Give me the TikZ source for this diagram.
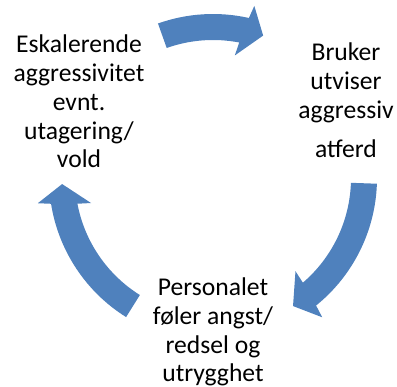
\documentclass[tikz,border=0pt]{standalone}
\usepackage{fontspec}
\setmainfont{Carlito}
\usepackage{tikz}

\definecolor{cycleblue}{RGB}{79,129,189}
\tikzset{
	cycletext/.style={align=center,inner sep=0pt,anchor=base,font=\fontsize{18.2}{20.6}\selectfont},
	cyclearrow/.style={fill=cycleblue,draw=none}
}
% block arrow on the circle: tail angle, head base angle, tip angle
\newcommand{\cycarrow}[3]{\fill[cyclearrow] (#1:164) arc[start angle=#1,end angle=#2-0.85,radius=164] -- ({#2-1.7}:177) -- (#3:151) -- ({#2+1.7}:124.5) -- ({#2+0.85}:138) arc[start angle=#2+0.85,end angle=#1,radius=138] -- cycle;}

\begin{document}
\begin{tikzpicture}[scale=0.025]
	\useasboundingbox (-213,-209) rectangle (184,178);
	\cycarrow{109.6}{78.2}{70.6}
	\cycarrow{-2}{-50.2}{-58}
	\cycarrow{238}{189.9}{182.3}
	% base anchor = last line
	\node[cycletext] (eskalering) at (-134,10) {Eskalerende\\aggressivitet\\evnt.\\utagering/\\vold};
	\node[cycletext] (bruker) at (133,20) {Bruker\\utviser\\aggressiv\\[7.8pt]atferd};
	\node[cycletext] (personalet) at (0,-204) {Personalet\\føler angst/\\redsel og\\utrygghet};
\end{tikzpicture}
\end{document}
